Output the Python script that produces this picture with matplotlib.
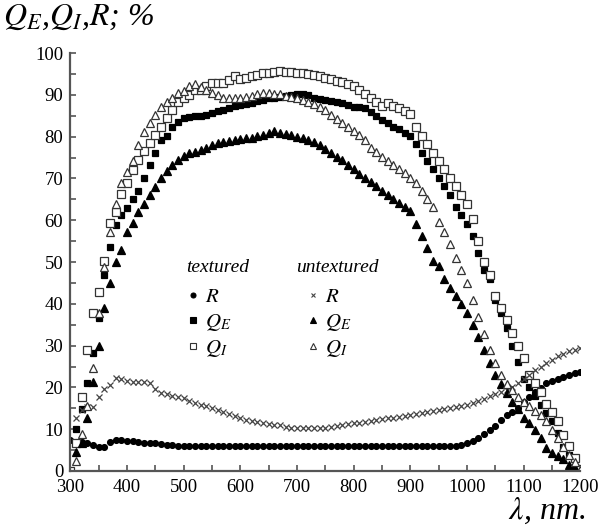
import numpy as np
import matplotlib
matplotlib.use("Agg")
import matplotlib.pyplot as plt
from matplotlib.lines import Line2D
from matplotlib.ticker import MultipleLocator

plt.rcParams['font.family'] = 'Liberation Serif'
plt.rcParams['mathtext.fontset'] = 'stix'

nan = np.nan

# wavelength grid, one point every 10 nm
wl = list(range(300, 1210, 10))

# textured cell
r_tex = [7.4, 7.0, 6.9, 6.8, 6.3, 5.8, 5.8, 7.0, 7.5, 7.3,
         7.2, 7.1, 7.0, 6.8, 6.7, 6.6, 6.4, 6.3, 6.2, 6.1,
         6.0, 6.0, 5.9, 5.9, 5.9, 5.9, 5.9, 5.9, 5.9, 5.9,
         5.9, 5.9, 5.9, 5.9, 5.9, 5.9, 5.9, 5.9, 5.9, 5.9,
         5.9, 5.9, 5.9, 5.9, 5.9, 5.9, 5.9, 5.9, 5.9, 5.9,
         5.9, 5.9, 5.9, 5.9, 5.9, 5.9, 5.9, 5.9, 5.9, 5.9,
         5.9, 5.9, 5.9, 5.9, 5.9, 5.9, 5.9, 5.9, 5.9, 6.2,
         6.6, 7.2, 7.8, 8.8, 9.8, 10.8, 12.2, 13.4, 14.2, 15.0,
         16.5, 17.6, 18.8, 19.8, 21.0, 21.6, 22.0, 22.6, 23.0, 23.5, 23.8]

qe_tex = [nan, 10.0, 14.8, 21.1, 28.2, 36.5, 47.0, 53.5, 58.8, 61.2,
          63.0, 65.0, 67.0, 70.2, 73.2, 76.1, 79.3, 80.2, 82.4, 83.6,
          84.4, 84.8, 85.0, 85.0, 85.3, 85.7, 86.1, 86.5, 86.9, 87.3,
          87.6, 87.8, 88.1, 88.5, 88.8, 89.2, 89.3, 89.5, 89.8, 89.9,
          90.1, 90.2, 90.0, 89.3, 89.0, 88.8, 88.5, 88.3, 88.0, 87.6,
          87.2, 87.0, 86.8, 86.0, 84.9, 84.1, 83.3, 82.3, 81.8, 81.0,
          80.1, 78.2, 76.2, 74.2, 72.2, 70.2, 68.2, 66.0, 63.2, 61.2,
          59.1, 56.2, 52.1, 48.1, 45.9, 41.0, 37.9, 34.3, 30.0, 26.0,
          22.0, 20.0, 18.0, 15.8, 13.8, 12.0, 9.0, 5.8, 3.8, 1.0, 0.0]

qi_tex = [0.0, 6.8, 17.8, 29.0, 37.9, 42.9, 50.2, 59.3, 62.0, 66.2,
          69.0, 72.0, 74.5, 76.5, 78.5, 80.4, 82.3, 84.4, 86.5, 88.3,
          89.3, 90.0, 91.1, 91.2, 92.2, 92.9, 92.9, 92.9, 93.6, 94.5,
          93.8, 94.0, 94.5, 94.7, 95.3, 95.2, 95.5, 95.6, 95.5, 95.4,
          95.3, 95.3, 95.1, 94.7, 94.5, 94.1, 93.7, 93.4, 93.1, 92.7,
          92.2, 91.1, 90.2, 89.2, 88.4, 87.3, 88.0, 87.3, 86.8, 86.2,
          85.4, 82.2, 80.2, 78.2, 76.2, 74.2, 72.2, 70.2, 68.2, 66.0,
          64.0, 60.2, 55.1, 50.1, 47.0, 41.9, 38.9, 36.1, 33.0, 30.0,
          27.0, 23.0, 21.0, 19.0, 16.0, 14.0, 12.0, 8.7, 6.0, 3.0, 0.5]

# untextured cell
r_untex = [nan, 12.8, 14.5, 15.4, 15.3, 17.6, 19.6, 20.6, 22.3, 22.0,
           21.5, 21.3, 21.3, 21.3, 21.0, 19.6, 18.6, 18.4, 18.0, 17.6,
           17.4, 16.8, 16.2, 15.9, 15.5, 15.1, 14.7, 14.2, 13.6, 13.1,
           12.6, 12.3, 12.0, 11.8, 11.6, 11.3, 11.1, 10.9, 10.6, 10.4,
           10.2, 10.2, 10.2, 10.3, 10.3, 10.4, 10.6, 10.8, 11.0, 11.2,
           11.4, 11.6, 11.8, 12.0, 12.2, 12.4, 12.6, 12.8, 13.0, 13.2,
           13.4, 13.6, 13.9, 14.1, 14.4, 14.6, 14.8, 15.1, 15.3, 15.6,
           15.8, 16.3, 16.8, 17.3, 18.0, 18.5, 19.0, 19.5, 20.2, 21.0,
           22.0, 23.0, 24.2, 25.0, 25.8, 26.6, 27.5, 28.1, 28.6, 29.0, 29.4]

qe_untex = [nan, 4.6, 6.8, 12.6, 21.4, 29.9, 38.9, 44.9, 50.0, 53.0,
            57.1, 59.3, 62.0, 63.8, 66.0, 68.0, 70.0, 71.8, 73.2, 74.4,
            75.4, 76.0, 76.4, 76.8, 77.4, 78.0, 78.4, 78.8, 79.0, 79.2,
            79.4, 79.6, 79.8, 80.1, 80.4, 80.8, 81.3, 80.9, 80.6, 80.3,
            80.0, 79.6, 79.2, 78.7, 78.0, 77.1, 76.2, 75.2, 74.3, 73.2,
            72.2, 71.1, 70.1, 69.2, 68.1, 67.1, 66.1, 65.1, 64.2, 63.2,
            62.2, 59.2, 56.3, 53.3, 50.3, 49.1, 46.0, 43.9, 41.9, 39.9,
            37.7, 34.9, 32.0, 28.9, 25.8, 23.0, 20.8, 18.7, 16.6, 14.8,
            12.6, 11.5, 9.9, 7.8, 5.6, 4.4, 3.6, 2.8, 1.5, 0.7, 0.0]

qi_untex = [nan, 2.5, 8.8, 15.6, 24.7, 37.9, 48.8, 57.1, 63.8, 69.0,
            71.5, 74.2, 78.0, 81.2, 83.2, 85.2, 87.2, 88.2, 89.3, 90.4,
            91.0, 92.2, 92.7, 91.8, 91.1, 90.5, 89.9, 89.3, 89.2, 89.2,
            89.2, 89.4, 89.7, 90.2, 90.5, 90.5, 90.3, 90.1, 89.8, 89.6,
            89.2, 88.8, 88.4, 87.8, 87.2, 86.4, 85.2, 84.2, 83.3, 82.3,
            81.3, 80.3, 79.2, 77.4, 76.4, 75.2, 74.2, 73.2, 72.2, 71.2,
            70.2, 69.0, 67.1, 65.2, 63.1, 59.7, 57.3, 54.2, 51.0, 48.0,
            44.9, 40.9, 36.9, 32.9, 28.9, 25.8, 23.0, 20.8, 19.5, 17.6,
            16.6, 15.6, 14.4, 13.5, 12.0, 9.8, 7.8, 5.8, 3.8, 2.2, 0.3]

fig = plt.figure(figsize=(6.0, 5.31), dpi=100)
ax = fig.add_axes([0.117, 0.113, 0.85, 0.787])

# (values, marker, size, facecolor, edgecolor)
styles = [
    (r_tex, 'o', 4.2, 'black', 'black'),
    (qe_tex, 's', 5.0, 'black', 'black'),
    (qi_tex, 's', 5.2, 'white', '#333333'),
    (r_untex, 'x', 3.8, '#444444', '#444444'),
    (qe_untex, '^', 5.6, 'black', 'black'),
    (qi_untex, '^', 5.6, 'white', '#333333'),
]
labels = [r'$R$', r'$Q_E$', r'$Q_I$', r'$R$', r'$Q_E$', r'$Q_I$']

handles = []
for (vals, mk, ms, fc, ec), lab in zip(styles, labels):
    ax.plot(wl, vals, linestyle='none', marker=mk, markersize=ms,
            markerfacecolor=fc, markeredgecolor=ec, markeredgewidth=0.9)
    handles.append(Line2D([], [], linestyle='none', marker=mk,
                          markersize=ms * 0.85, markerfacecolor=fc,
                          markeredgecolor=ec, markeredgewidth=0.8, label=lab))

leg = ax.legend(handles=handles, ncol=2, loc='center',
                bbox_to_anchor=(0.388, 0.353), frameon=False,
                prop={'size': 15}, handlelength=0.8, handletextpad=0.2,
                columnspacing=3.5, labelspacing=0.25)

ax.text(0.29, 0.486, 'textured', transform=ax.transAxes, style='italic',
        fontsize=14, ha='center', va='center')
ax.text(0.523, 0.486, 'untextured', transform=ax.transAxes, style='italic',
        fontsize=14, ha='center', va='center')

ax.set_xlim(300, 1200)
ax.set_ylim(0, 100)
ax.xaxis.set_major_locator(MultipleLocator(100))
ax.xaxis.set_minor_locator(MultipleLocator(50))
ax.yaxis.set_major_locator(MultipleLocator(10))
ax.yaxis.set_minor_locator(MultipleLocator(5))
ax.tick_params(which='both', direction='in', length=4, width=1.2,
               color='#555555', labelsize=13.5)
ax.tick_params(axis='x', pad=6)
ax.tick_params(axis='y', pad=5)

for side in ['top', 'right']:
    ax.spines[side].set_visible(False)
for side in ['left', 'bottom']:
    ax.spines[side].set_color('#555555')
    ax.spines[side].set_linewidth(1.6)

fig.text(0.005, 0.995, r'$Q_E$,$Q_I$,$R$; %', fontsize=23, ha='left',
         va='top', style='italic')
fig.text(0.975, 0.01, r'$\lambda$, nm.', fontsize=23, ha='right',
         va='bottom', style='italic')

plt.savefig('out.png', dpi=100)
